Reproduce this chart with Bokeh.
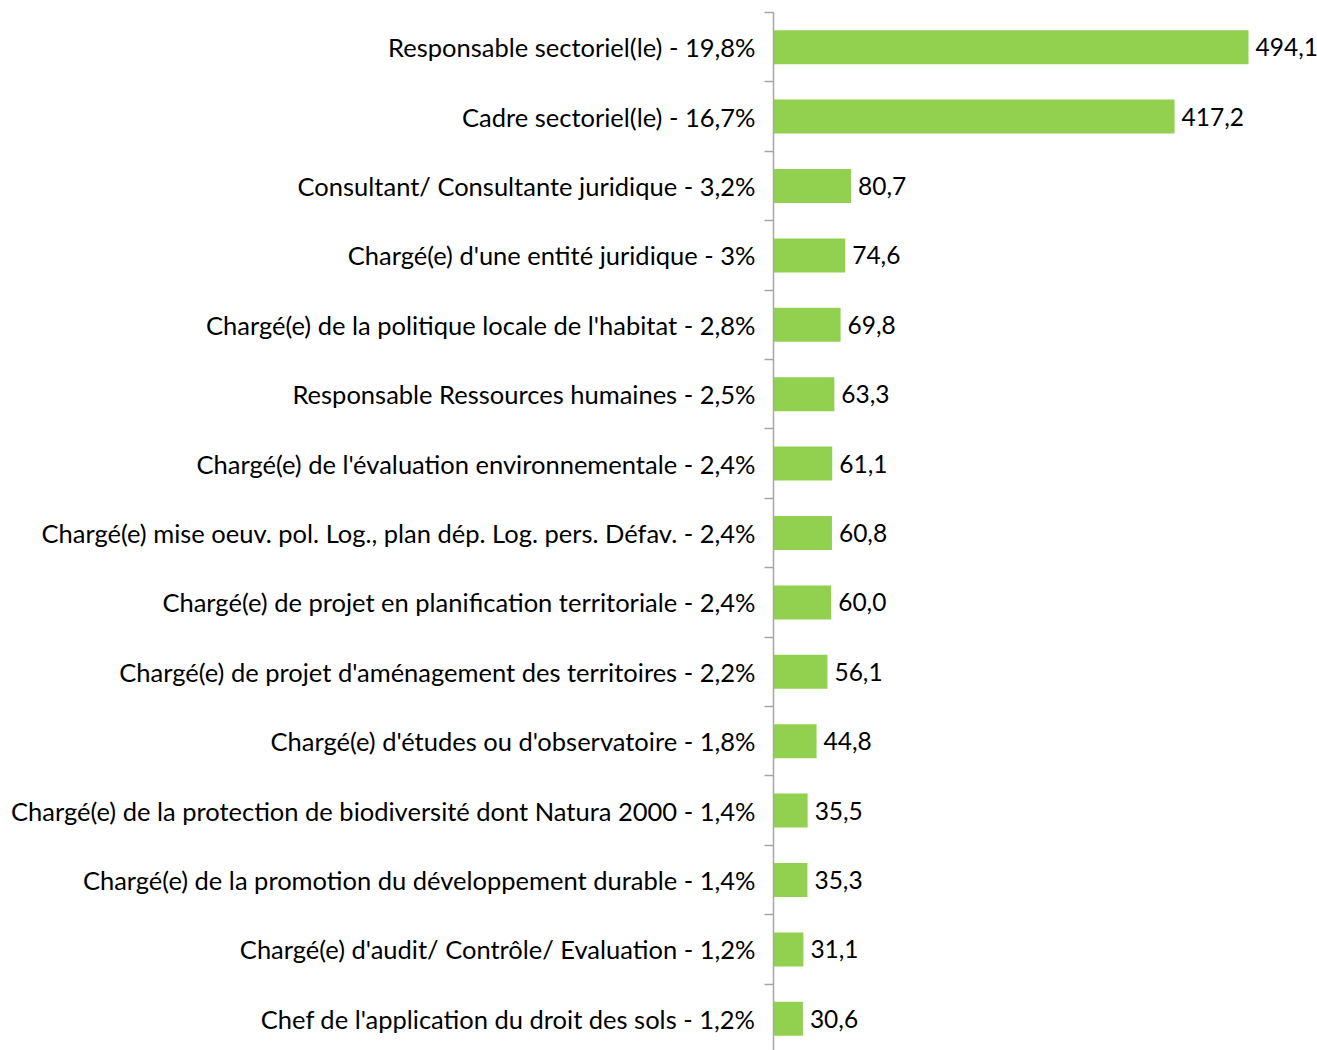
from bokeh.plotting import figure
from bokeh.models import Range1d, FixedTicker, ColumnDataSource, LabelSet
from bokeh.core.properties import value
from bokeh.embed import file_html
from bokeh.resources import INLINE

categories = [
    "Responsable sectoriel(le) - 19,8%",
    "Cadre sectoriel(le) - 16,7%",
    "Consultant/ Consultante juridique - 3,2%",
    "Chargé(e) d'une entité juridique - 3%",
    "Chargé(e) de la politique locale de l'habitat - 2,8%",
    "Responsable Ressources humaines - 2,5%",
    "Chargé(e) de l'évaluation environnementale - 2,4%",
    "Chargé(e) mise oeuv. pol. Log., plan dép. Log. pers. Défav. - 2,4%",
    "Chargé(e) de projet en planification territoriale - 2,4%",
    "Chargé(e) de projet d'aménagement des territoires - 2,2%",
    "Chargé(e) d'études ou d'observatoire - 1,8%",
    "Chargé(e) de la protection de biodiversité dont Natura 2000 - 1,4%",
    "Chargé(e) de la promotion du développement durable - 1,4%",
    "Chargé(e) d'audit/ Contrôle/ Evaluation - 1,2%",
    "Chef de l'application du droit des sols - 1,2%",
]
values = [494.1, 417.2, 80.7, 74.6, 69.8, 63.3, 61.1, 60.8, 60.0, 56.1, 44.8, 35.5, 35.3, 31.1, 30.6]
value_labels = ["494,1", "417,2", "80,7", "74,6", "69,8", "63,3", "61,1", "60,8", "60,0", "56,1",
                "44,8", "35,5", "35,3", "31,1", "30,6"]

n = len(categories)
pos = list(range(n))
FONT = "Lato"

src = ColumnDataSource(dict(y=pos, v=values, lab=value_labels))

W, H = 1317, 1050
frame_left = 773
frame_top = 12
px_per_cat = 69.4
frame_h = H - frame_top
y_end = -0.5 + frame_h / px_per_cat
px_per_unit = 475 / 494.1
x_end = (W - frame_left) / px_per_unit

p = figure(width=W, height=H, output_backend="svg", toolbar_location=None,
           x_range=Range1d(0, x_end), y_range=Range1d(y_end, -0.5),
           min_border_left=frame_left, min_border_top=frame_top,
           min_border_right=0, min_border_bottom=0)
p.xaxis.visible = False
p.grid.visible = False
p.outline_line_color = None
p.background_fill_color = "white"

p.hbar(y="y", right="v", left=0, height=0.49, source=src, color="#92D050", line_color=None)

labels = LabelSet(x="v", y="y", text="lab", source=src, x_offset=7, text_baseline="middle",
                  text_align="left", text_font=value(FONT), text_font_size="24.5px",
                  text_color="#000000")
p.add_layout(labels)

ax = p.yaxis[0]
ax.ticker = FixedTicker(ticks=pos, minor_ticks=[i - 0.5 for i in range(n + 1)])
ax.major_label_overrides = {i: c for i, c in enumerate(categories)}
ax.major_tick_out = 0
ax.major_tick_in = 0
ax.minor_tick_out = 9
ax.minor_tick_in = 0
ax.minor_tick_line_color = "#A6A6A6"
ax.minor_tick_line_width = 1.5
ax.axis_line_color = "#A6A6A6"
ax.axis_line_width = 1.5
ax.major_label_standoff = 9
ax.major_label_text_font = FONT
ax.major_label_text_font_size = "25.5px"
ax.major_label_text_color = "#000000"

open("out.html", "w").write(file_html(p, INLINE))
